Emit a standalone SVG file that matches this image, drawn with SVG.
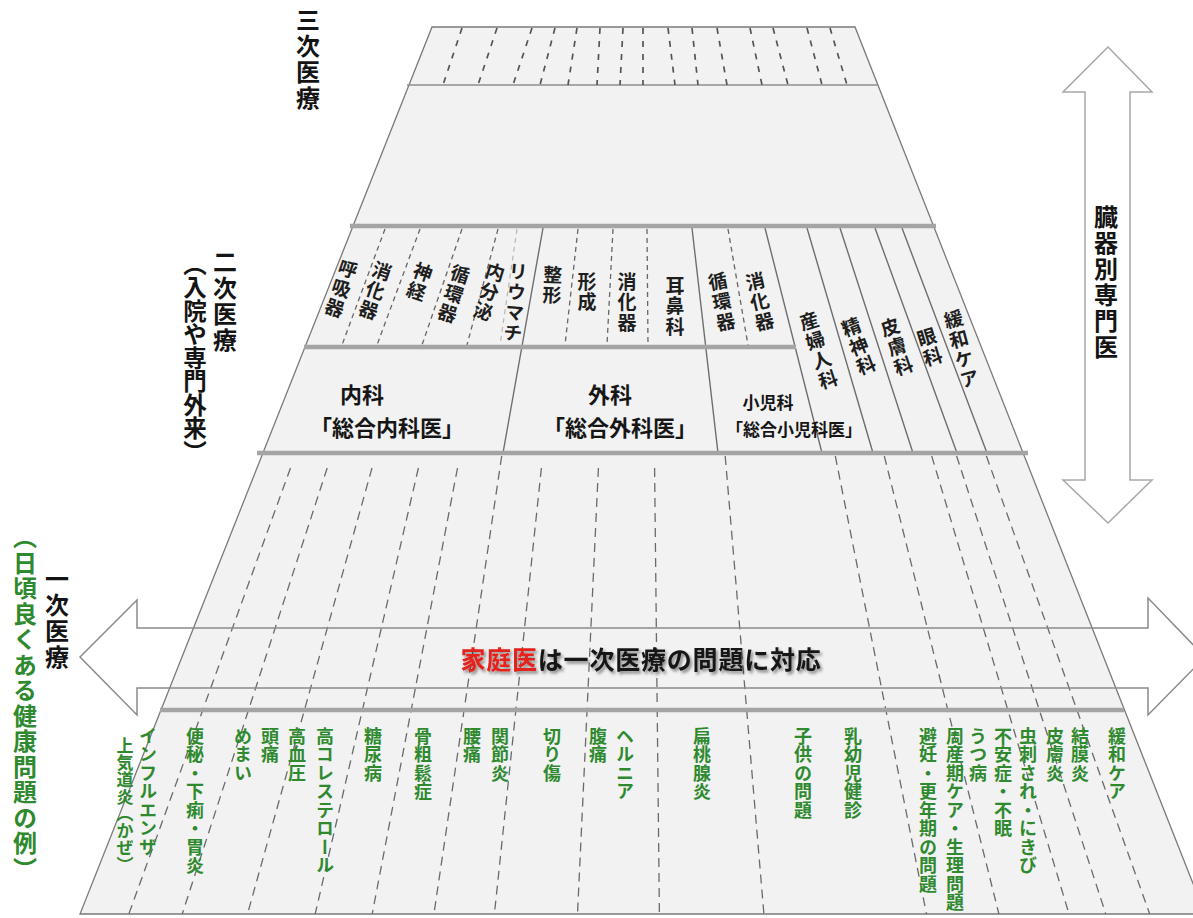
<svg xmlns="http://www.w3.org/2000/svg" width="1193" height="918" viewBox="0 0 1193 918">
<defs>
<style>
.thin{stroke:#8e8e8e;stroke-width:1.5}
.thick{stroke:#a4a4a4;stroke-width:4.5}
.dt{stroke:#555;stroke-width:1.7;stroke-dasharray:6 7;fill:none}
.ds{stroke:#666;stroke-width:1.3;stroke-dasharray:5 4;fill:none}
.df{stroke:#b8b8b8;stroke-width:1.2;stroke-dasharray:5 4;fill:none}
.dp{stroke:#6a6a6a;stroke-width:1.3;stroke-dasharray:9 6;fill:none}
.sl{stroke:#6e6e6e;stroke-width:1.4}
.v{writing-mode:vertical-rl;font-family:"Noto Sans CJK JP","Noto Sans CJK SC",sans-serif;font-weight:700}
.big{font-size:24px;fill:#141414;letter-spacing:2px}
.s{font-size:19px;fill:#1e1e1e;letter-spacing:1.5px}
.g{font-size:18px;fill:#2f8a2f;letter-spacing:0.5px}
.gl{font-size:24px;fill:#2f8a2f;letter-spacing:1.5px}
.h{font-family:"Noto Sans CJK JP","Noto Sans CJK SC",sans-serif;font-weight:700;text-anchor:middle;fill:#161616}
.arrow{fill:none;stroke:#8a8a8a;stroke-width:1.5}
</style>
<filter id="sh" x="-10%" y="-40%" width="120%" height="180%"><feDropShadow dx="2" dy="2.5" stdDeviation="1.6" flood-color="#000" flood-opacity="0.45"/></filter>
</defs>
<rect width="1193" height="918" fill="#ffffff"/>

<g id="pyramid">
<polygon points="432,27 855,27 1205,914 80,914" fill="#f2f2f2" stroke="#7a7a7a" stroke-width="1.3"/>
</g>

<g id="tertiary">
<line x1="407" y1="85" x2="878" y2="85" class="thin"/>
<path class="dt" d="M462,28 L443,85 M497,28 L478,85 M532,28 L513,85 M555,28 L540,85 M577,28 L568,85 M600,28 L597,85 M623,28 L620,85 M643,28 L643,85 M668,28 L675,85 M692,28 L698,85 M717,28 L727,85 M750,28 L762,85 M773,28 L788,85 M807,28 L822,85 M830,28 L847,85"/>
</g>

<g id="secondary">
<path class="ds" d="M385,229 L342,345 M420,229 L377,345 M462,229 L422,345 M498,229 L467,345 M578,229 L565,345 M613,229 L607,345 M647,229 L648,345 M728,229 L748,345"/>
<path class="df" d="M517,229 L500,345"/>
<path class="sl" d="M543,228 L503,453 M692,228 L718,453 M765,228 L822,453 M807,228 L873,453 M840,228 L913,453 M875,228 L957,453 M902,228 L987,453"/>
<line x1="350" y1="226" x2="936" y2="226" class="thick"/>
<line x1="304" y1="347" x2="796" y2="347" class="thick"/>
<line x1="257" y1="453" x2="1028" y2="453" class="thick"/>
</g>

<g id="primary">
<path class="dp" d="M290.5,468 L128.8,914 M327.2,468 L182.2,914 M372,468 L247.5,914 M418.4,468 L315.2,914 M457.5,468 L372.2,914 M501.7,456 L433.9,914 M541.4,468 L494.4,914 M598.4,468 L577.5,914 M654.6,468 L659.4,914 M725.2,456 L763.9,914 M835.3,456 L926.5,914 M884.3,456 L998.9,914 M931.7,456 L1069,914 M956.6,456 L1105.8,914 M986.4,456 L1149.7,914"/>
<line x1="160" y1="710" x2="1124" y2="710" class="thick"/>
</g>

<g id="arrow-h">
<polygon class="arrow" points="80,657 137,600 137,628 1148,628 1148,598 1205,657 1148,715 1148,688 137,688 137,715"/>
<text class="h" x="641" y="669" font-size="25" letter-spacing="0.8" filter="url(#sh)"><tspan fill="#e3201c">家庭医</tspan>は一次医療の問題に対応</text>
</g>

<g id="arrow-v">
<polygon points="1108,47 1152,92 1130,92 1130,480 1152,480 1108,523 1063,480 1085,480 1085,92 1063,92" fill="#ffffff" stroke="#a8a8a8" stroke-width="1.5"/>
<text class="v big" x="1106" y="205">臓器別専門医</text>
</g>

<g id="level-labels">
<text class="v big" x="308" y="8">三次医療</text>
<text class="v big" x="225" y="250">二次医療</text>
<text class="v big" x="195" y="252" style="font-size:23.5px;letter-spacing:0">（入院や専門外来）</text>
<text class="v big" x="57" y="567">一次医療</text>
<text class="v gl" x="25" y="525">（日頃良くある健康問題の例）</text>
</g>

<g id="dept-labels">
<text class="h" x="362" y="403" font-size="22">内科</text>
<text class="h" x="387" y="436" font-size="22">「総合内科医」</text>
<text class="h" x="610" y="403" font-size="22">外科</text>
<text class="h" x="620" y="436" font-size="22">「総合外科医」</text>
<text class="h" x="768" y="409" font-size="17" font-weight="400">小児科</text>
<text class="h" x="794" y="436" font-size="17" font-weight="400">「総合小児科医」</text>
</g>

<g id="specialty-labels">
<text class="v s" x="351" y="260" transform="rotate(19 351 260)">呼吸器</text>
<text class="v s" x="385" y="262" transform="rotate(19 385 262)">消化器</text>
<text class="v s" x="426" y="263" transform="rotate(19 426 263)">神経</text>
<text class="v s" x="463" y="265" transform="rotate(18 463 265)">循環器</text>
<text class="v s" x="498" y="263" transform="rotate(17 498 263)">内分泌</text>
<text class="v s" x="519" y="262" transform="rotate(5 519 262)">リウマチ</text>
<text class="v s" x="553" y="265" transform="rotate(2 553 265)">整形</text>
<text class="v s" x="587" y="272">形成</text>
<text class="v s" x="627" y="272">消化器</text>
<text class="v s" x="675" y="276">耳鼻科</text>
<text class="v s" x="716" y="272" transform="rotate(-11 716 272)">循環器</text>
<text class="v s" x="753" y="272" transform="rotate(-13 753 272)">消化器</text>
<text class="v s" x="806" y="312" transform="rotate(-18 806 312)">産婦人科</text>
<text class="v s" x="848" y="318" transform="rotate(-21 848 318)">精神科</text>
<text class="v s" x="887" y="318" transform="rotate(-19 887 318)">皮膚科</text>
<text class="v s" x="924" y="328" transform="rotate(-17 924 328)">眼科</text>
<text class="v s" x="951" y="310" transform="rotate(-15 951 310)">緩和ケア</text>
</g>

<g id="primary-labels">
<text class="v g" x="148" y="727">インフルエンザ</text>
<text class="v g" x="125" y="737" style="font-size:17px;letter-spacing:0">上気道炎（かぜ）</text>
<text class="v g" x="195" y="727">便秘・下痢・胃炎</text>
<text class="v g" x="243" y="727">めまい</text>
<text class="v g" x="270" y="727">頭痛</text>
<text class="v g" x="297" y="727">高血圧</text>
<text class="v g" x="325" y="727">高コレステロール</text>
<text class="v g" x="373" y="727">糖尿病</text>
<text class="v g" x="423" y="727">骨粗鬆症</text>
<text class="v g" x="472" y="727">腰痛</text>
<text class="v g" x="500" y="727">関節炎</text>
<text class="v g" x="552" y="727">切り傷</text>
<text class="v g" x="598" y="727">腹痛</text>
<text class="v g" x="625" y="727">ヘルニア</text>
<text class="v g" x="702" y="727">扁桃腺炎</text>
<text class="v g" x="803" y="727">子供の問題</text>
<text class="v g" x="853" y="727">乳幼児健診</text>
<text class="v g" x="928" y="727">避妊・更年期の問題</text>
<text class="v g" x="955" y="727">周産期ケア・生理問題</text>
<text class="v g" x="978" y="727">うつ病</text>
<text class="v g" x="1003" y="727">不安症・不眠</text>
<text class="v g" x="1028" y="727">虫刺され・にきび</text>
<text class="v g" x="1055" y="727">皮膚炎</text>
<text class="v g" x="1080" y="727">結膜炎</text>
<text class="v g" x="1117" y="727">緩和ケア</text>
</g>
</svg>
